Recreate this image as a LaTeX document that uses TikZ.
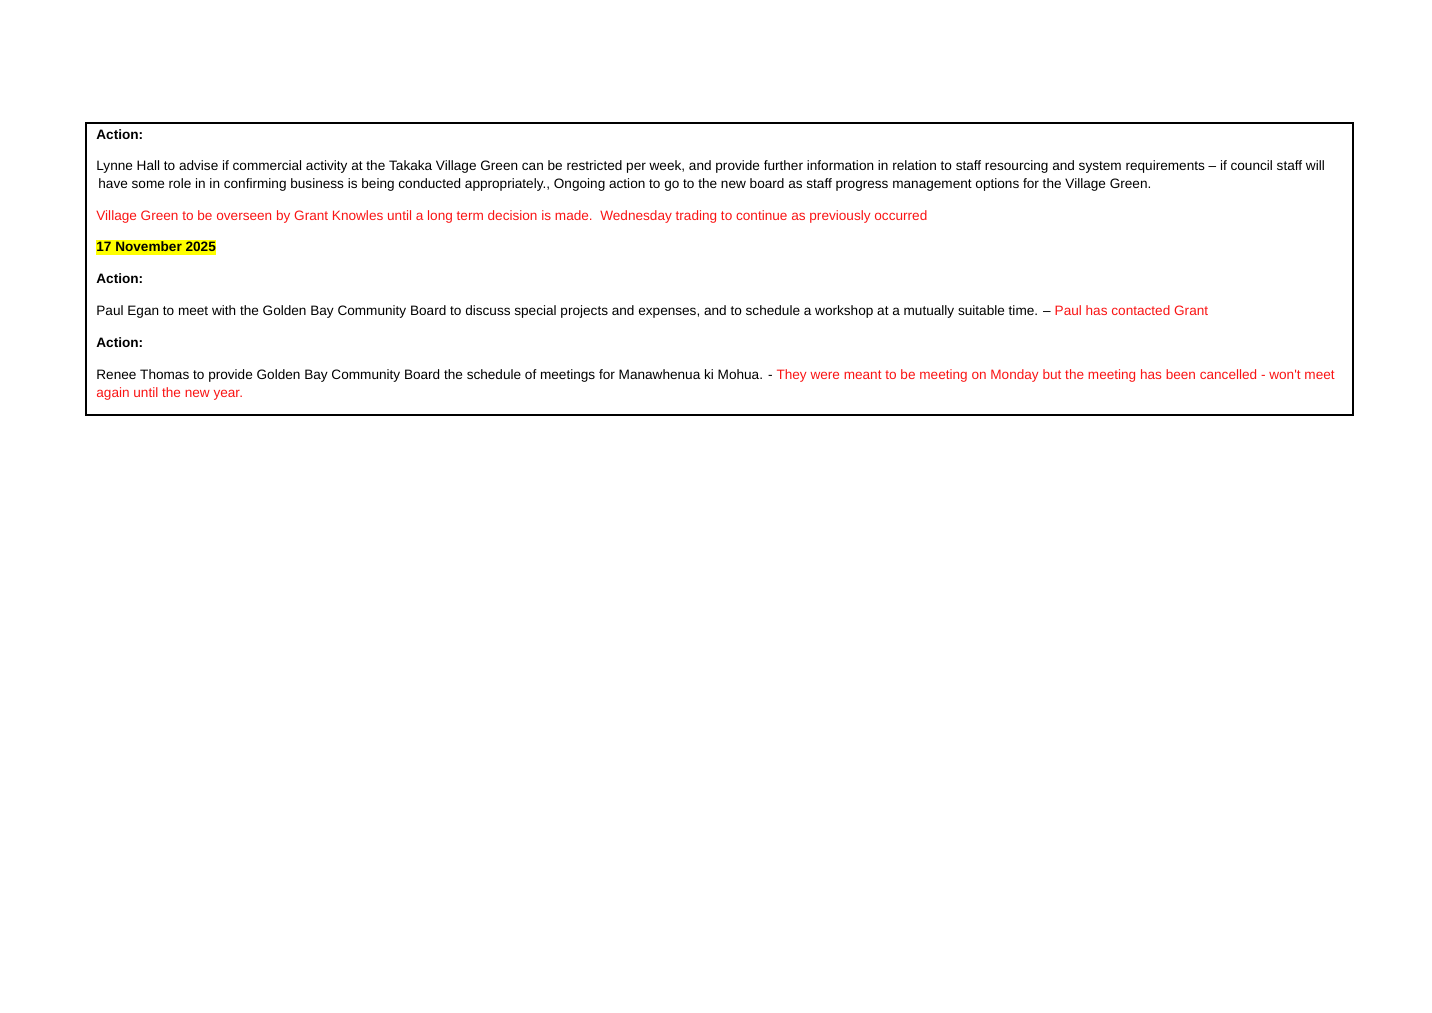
\documentclass[tikz,border=0pt]{standalone}
\usepackage{fontspec}
\setmainfont{Liberation Sans}
\definecolor{notered}{RGB}{250,20,20}
\definecolor{markyellow}{RGB}{255,255,0}
\begin{document}
\begin{tikzpicture}[x=0.5pt, y=-0.5pt, line join=miter,
    txt/.style={anchor=base west, inner sep=0pt, font=\fontsize{6.8pt}{9pt}\selectfont},
    note/.style={txt, text=notered},
    head/.style={txt, font=\fontsize{6.8pt}{9pt}\selectfont\bfseries}]
    \def \xmin{0}
    \def \xmax{1432}
    \def \ymin{0}
    \def \ymax{1013}
    \useasboundingbox[fill=white] (\xmin,\ymin) rectangle (\xmax,\ymax);
    \def \tx{96}
    % frame of the table cell
    \draw[line width=1.3pt] (86,123) rectangle (1353,415);
    \node[head] (act1) at (\tx,139) {Action:};
    \node[txt] (lynne1) at (\tx,170) {Lynne Hall to advise if commercial activity at the Takaka Village Green can be restricted per week, and provide further information in relation to staff resourcing and system requirements – if council staff will};
    \node[txt] (lynne2) at (\tx+2,188) {have some role in in confirming business is being conducted appropriately., Ongoing action to go to the new board as staff progress management options for the Village Green.};
    \node[note] (village) at (\tx,220) {Village Green to be overseen by Grant Knowles until a long term decision is made.\ \ Wednesday trading to continue as previously occurred};
    \fill[markyellow] (\tx,240) rectangle (216,254.5);
    \node[head] (date) at (\tx,251.5) {17 November 2025};
    \node[head] (act2) at (\tx,283.5) {Action:};
    \node[txt] (paul) at (\tx,315) {Paul Egan to meet with the Golden Bay Community Board to discuss special projects and expenses, and to schedule a workshop at a mutually suitable time. – \textcolor{notered}{Paul has contacted Grant}};
    \node[head] (act3) at (\tx,347) {Action:};
    \node[txt] (renee1) at (\tx,379) {Renee Thomas to provide Golden Bay Community Board the schedule of meetings for Manawhenua ki Mohua. - \textcolor{notered}{They were meant to be meeting on Monday but the meeting has been cancelled - won\textquotesingle t meet}};
    \node[note] (renee2) at (\tx,397) {again until the new year.};
\end{tikzpicture}
\end{document}
